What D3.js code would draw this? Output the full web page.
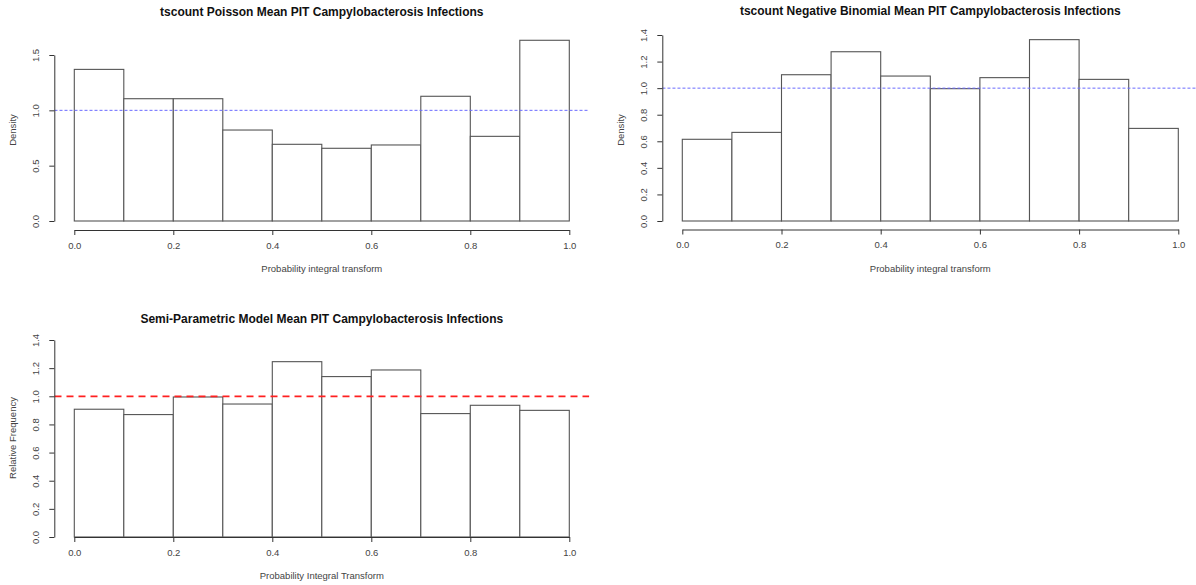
<!DOCTYPE html>
<html>
<head>
<meta charset="utf-8">
<script src="https://cdn.jsdelivr.net/npm/d3@7"></script>
<style>
  body { margin: 0; background: #fff; }
  svg { display: block; font-family: "Liberation Sans", Arial, sans-serif; }
</style>
</head>
<body>
<svg id="chart" width="1196" height="585"></svg>
<script>
// PIT histogram bins (10 equal bins on 0..1)
const BIN_EDGES = [0, 0.1, 0.2, 0.3, 0.4, 0.5, 0.6, 0.7, 0.8, 0.9, 1.0];
const POISSON_DENSITY = [1.37, 1.105, 1.105, 0.822, 0.693, 0.657, 0.687, 1.127, 0.765, 1.633];
const NEGBIN_DENSITY = [0.615, 0.667, 1.101, 1.274, 1.091, 0.996, 1.079, 1.365, 1.066, 0.697];
const SEMIPAR_FREQ = [0.908, 0.870, 0.995, 0.945, 1.246, 1.140, 1.187, 0.877, 0.936, 0.900];

const X_TICKS = [0, 0.2, 0.4, 0.6, 0.8, 1.0];
const Y_TICKS_POISSON = [0, 0.5, 1.0, 1.5];
const Y_TICKS_NEGBIN = [0, 0.2, 0.4, 0.6, 0.8, 1.0, 1.2, 1.4];
const Y_TICKS_SEMIPAR = [0, 0.2, 0.4, 0.6, 0.8, 1.0, 1.2, 1.4];

const TITLES = [
  'tscount Poisson Mean PIT Campylobacterosis Infections',
  'tscount Negative Binomial Mean PIT Campylobacterosis Infections',
  'Semi-Parametric Model Mean PIT Campylobacterosis Infections'
];
const X_LABELS = ['Probability integral transform', 'Probability integral transform', 'Probability Integral Transform'];
const Y_LABELS = ['Density', 'Density', 'Relative Frequency'];

const svg = d3.select('#chart');

// layout of each panel (pixel frame), data comes from arrays above
const PANELS = [
  {values: POISSON_DENSITY, yTicks: Y_TICKS_POISSON, yMax: 1.5,
   x0: 74.3, x1: 569.3, y0: 221, y1: 55, xAxisY: 230, titleY: 15.5, labelY: 130, refColor: 'blue'},
  {values: NEGBIN_DENSITY, yTicks: Y_TICKS_NEGBIN, yMax: 1.4,
   x0: 682.3, x1: 1178.3, y0: 221, y1: 35, xAxisY: 229.5, titleY: 14.5, labelY: 130, refColor: 'blue'},
  {values: SEMIPAR_FREQ, yTicks: Y_TICKS_SEMIPAR, yMax: 1.4,
   x0: 74.3, x1: 569.3, y0: 537, y1: 340, xAxisY: 537, titleY: 322.5, labelY: 438, refColor: 'red'}
];

PANELS.forEach(function(p, i) {
  const x = d3.scaleLinear().domain([0, 1]).range([p.x0, p.x1]);
  const y = d3.scaleLinear().domain([0, p.yMax]).range([p.y0, p.y1]);
  const g = svg.append('g');
  const bins = p.values.map(function(v, k) { return {lo: BIN_EDGES[k], hi: BIN_EDGES[k + 1], v: v}; });

  g.selectAll('rect.bar')
    .data(bins)
    .enter().append('rect')
    .attr('class', 'bar')
    .attr('x', function(d) { return x(d.lo); })
    .attr('y', function(d) { return y(d.v); })
    .attr('width', function(d) { return x(d.hi) - x(d.lo); })
    .attr('height', function(d) { return y(0) - y(d.v); })
    .attr('fill', '#fff')
    .attr('stroke', '#555')
    .attr('stroke-width', 1.1);

  // reference line at 1 spans the whole plot region (xlim extended 4%)
  const ref = g.append('line')
    .attr('x1', x(-0.04)).attr('x2', x(1.04))
    .attr('y1', y(1)).attr('y2', y(1));
  if (p.refColor === 'blue') {
    ref.attr('stroke', '#6a6aff').attr('stroke-width', 1).attr('stroke-dasharray', '3,2');
  } else {
    ref.attr('stroke', '#ff2020').attr('stroke-width', 1.8).attr('stroke-dasharray', '7,5');
  }

  const xAxis = g.append('g')
    .attr('transform', `translate(0,${p.xAxisY})`)
    .call(d3.axisBottom(x).tickValues(X_TICKS).tickFormat(d3.format('.1f'))
      .tickSize(5).tickSizeOuter(0).tickPadding(7));

  const yAxis = g.append('g')
    .attr('transform', `translate(${p.x0 - 20},0)`)
    .call(d3.axisLeft(y).tickValues(p.yTicks).tickFormat(d3.format('.1f'))
      .tickSize(5).tickSizeOuter(0));
  yAxis.selectAll('text')
    .attr('x', null).attr('dy', null)
    .attr('text-anchor', 'middle')
    .attr('transform', 'translate(-15.5,0) rotate(-90)');

  [xAxis, yAxis].forEach(function(a) {
    a.select('.domain').attr('stroke', '#333');
    a.selectAll('.tick line').attr('stroke', '#333');
    a.selectAll('text').attr('fill', '#444').style('font-size', '9.5px');
  });

  const cx = (x(-0.04) + x(1.04)) / 2;
  g.append('text')
    .attr('x', cx).attr('y', p.titleY)
    .attr('text-anchor', 'middle')
    .style('font-size', '12px').style('font-weight', 'bold')
    .attr('fill', '#111')
    .text(TITLES[i]);

  g.append('text')
    .attr('x', x(0.5)).attr('y', p.xAxisY + 42)
    .attr('text-anchor', 'middle')
    .style('font-size', '9.5px').attr('fill', '#444')
    .text(X_LABELS[i]);

  g.append('text')
    .attr('transform', `translate(${p.x0 - 58.5},${p.labelY}) rotate(-90)`)
    .attr('text-anchor', 'middle')
    .style('font-size', '9.5px').attr('fill', '#444')
    .text(Y_LABELS[i]);
});
</script>
</body>
</html>
